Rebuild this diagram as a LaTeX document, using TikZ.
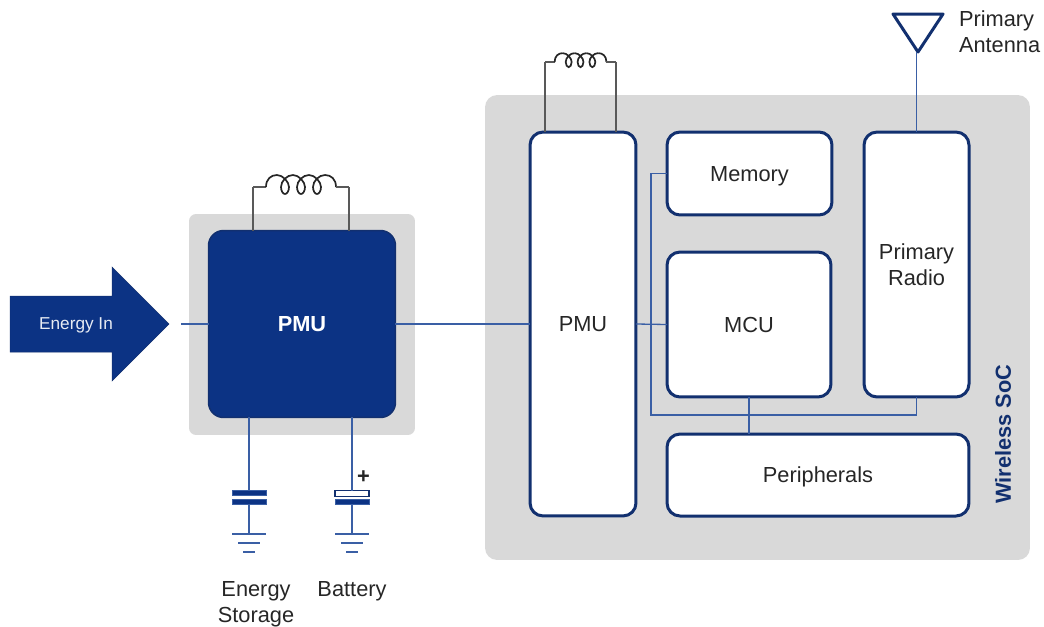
\documentclass[tikz,border=0pt]{standalone}
\usepackage{fontspec}
\setmainfont{Liberation Sans}
\usepackage{tikz}
\definecolor{navy}{HTML}{0C3384}
\definecolor{edge}{HTML}{12306F}
\definecolor{wire}{HTML}{3A5FA5}
\definecolor{panel}{HTML}{D9D9D9}
\definecolor{ink}{HTML}{262626}
\tikzset{
	label text/.style={font=\fontsize{12.4}{14.8}\selectfont, text=ink, align=center, inner sep=0pt, outer sep=0pt},
	panel box/.style={fill=panel, inner sep=0pt, outer sep=0pt},
	block/.style={label text, draw=edge, line width=0.06cm, fill=white, rounded corners=0.26cm, text depth=0pt},
	link/.style={draw=wire, line width=0.026cm},
	coil wire/.style={draw=black!65, line width=0.026cm},
	plate/.style={fill=navy, draw=wire, line width=0.01cm, inner sep=0pt, outer sep=0pt, minimum width=0.68cm, minimum height=0.1cm},
	inductor/.pic={
		\coordinate (-left) at (0,0);
		\coordinate (-right) at (96,0);
		\draw[coil wire] (0,0) -- (13,0);
		\draw[coil wire, black!85, line width=0.034cm] (13,0) .. controls (13,-8) and (18,-12) .. (24,-12);
		\foreach \x in {0,16,32}
			\draw[coil wire, black!85, line width=0.034cm] (24+\x,-12) .. controls (30+\x,-12) and (36+\x,-5) .. (36+\x,0)
				.. controls (36+\x,4) and (34+\x,7) .. (32+\x,7)
				.. controls (30+\x,7) and (28+\x,4) .. (28+\x,0)
				.. controls (28+\x,-6) and (34+\x,-12) .. (40+\x,-12);
		\draw[coil wire, black!85, line width=0.034cm] (72,-12) .. controls (78,-12) and (83,-8) .. (83,0);
		\draw[coil wire] (83,0) -- (96,0);
	},
	groundsym/.pic={
		\draw[link] (-17,0) -- (17,0);
		\draw[link] (-11,9) -- (11,9);
		\draw[link] (-6,18) -- (6,18);
	}
}
\begin{document}
\begin{tikzpicture}[x=0.02cm, y=-0.02cm]
	\useasboundingbox (0,0) rectangle (1044,626);
	% grey panels
	\node[panel box, rounded corners=0.24cm, minimum width=10.9cm, minimum height=9.3cm] (soc) at (757.5,327.5) {};
	\node[panel box, rounded corners=0.14cm, minimum width=4.52cm, minimum height=4.42cm] (pmupanel) at (302,324.5) {};
	% blocks
	\node[label text, fill=navy, draw=edge, text=white, line width=0.03cm, rounded corners=0.3cm, minimum width=3.74cm, minimum height=3.74cm, font=\fontsize{12.4}{14.8}\selectfont\bfseries] (pmu) at (302,324) {PMU};
	\node[block, minimum width=2.12cm, minimum height=7.68cm] (socpmu) at (583,324) {PMU};
	\node[block, minimum width=3.3cm, minimum height=1.66cm] (memory) at (749.5,173.5) {Memory};
	\node[block, minimum width=3.28cm, minimum height=2.9cm] (mcu) at (749,324.5) {MCU};
	\node[block, minimum width=2.1cm, minimum height=5.3cm] (radio) at (916.5,264.5) {Primary\\Radio};
	\node[block, minimum width=6.04cm, minimum height=1.64cm] (periph) at (818,475) {Peripherals};
	\node[label text, text=edge, rotate=90, font=\fontsize{12.4}{14.8}\selectfont\bfseries] (soclabel) at (1003,434) {Wireless SoC};
	% energy in arrow
	\fill[navy, draw=edge, line width=0.01cm] (10,296) -- (112,296) -- (112,267) -- (169,324) -- (112,381) -- (112,352) -- (10,352) -- cycle;
	\node[text=white!90!navy, font=\fontsize{9.8}{12}\selectfont, inner sep=0pt] (energyin) at (76,325) {Energy In};
	\coordinate (feed) at (181,324);
	\draw[link] (feed) -- (pmu.west);
	\draw[link] (pmu.east) -- (socpmu.west);
	% bus inside the soc
	\coordinate (buscorner) at (651,415);
	\draw[link] (socpmu.east) -- (mcu.west);
	\draw[link] (memory.west) -| (buscorner) -| (radio.south);
	\draw[link] (mcu.south) -- (mcu.south |- periph.north);
	% inductors
	\pic (coila) at (253,187) {inductor};
	\draw[coil wire] (coila-left) -- (coila-left |- pmu.north);
	\draw[coil wire] (coila-right) -- (coila-right |- pmu.north);
	\pic[scale=0.74] (coilb) at (545,62) {inductor};
	\draw[coil wire] (coilb-left) -- (coilb-left |- socpmu.north);
	\draw[coil wire] (coilb-right) -- (coilb-right |- socpmu.north);
	% energy storage
	\node[plate] (storetop) at (249,493) {};
	\node[plate] (storebot) at (249,502) {};
	\coordinate (storegnd) at (249,534);
	\draw[link] (storetop.north |- pmu.south) -- (storetop.north);
	\draw[link] (storebot.south) -- (storegnd);
	\pic at (storegnd) {groundsym};
	\node[label text] (storelabel) at (256,604) {Energy\\Storage};
	% battery
	\node[plate, fill=white, draw=edge, line width=0.03cm, minimum height=0.12cm] (battop) at (352,493.5) {};
	\node[plate] (batbot) at (352,502) {};
	\coordinate (batgnd) at (352,534);
	\draw[link] (battop.north |- pmu.south) -- (battop.north);
	\draw[link] (batbot.south) -- (batgnd);
	\pic at (batgnd) {groundsym};
	\node[label text, font=\fontsize{12.4}{14.8}\selectfont\bfseries] (batplus) at (363.5,477) {+};
	\node[label text] (batlabel) at (352,591) {Battery};
	% antenna
	\draw[edge, line width=0.06cm, line join=round] (893,14) -- (943,14) -- (918,52) -- cycle;
	\coordinate (anttip) at (916.5,52);
	\draw[link] (anttip) -- (radio.north);
	\node[label text, align=left, anchor=west] (antlabel) at (959,32) {Primary\\Antenna};
\end{tikzpicture}
\end{document}
